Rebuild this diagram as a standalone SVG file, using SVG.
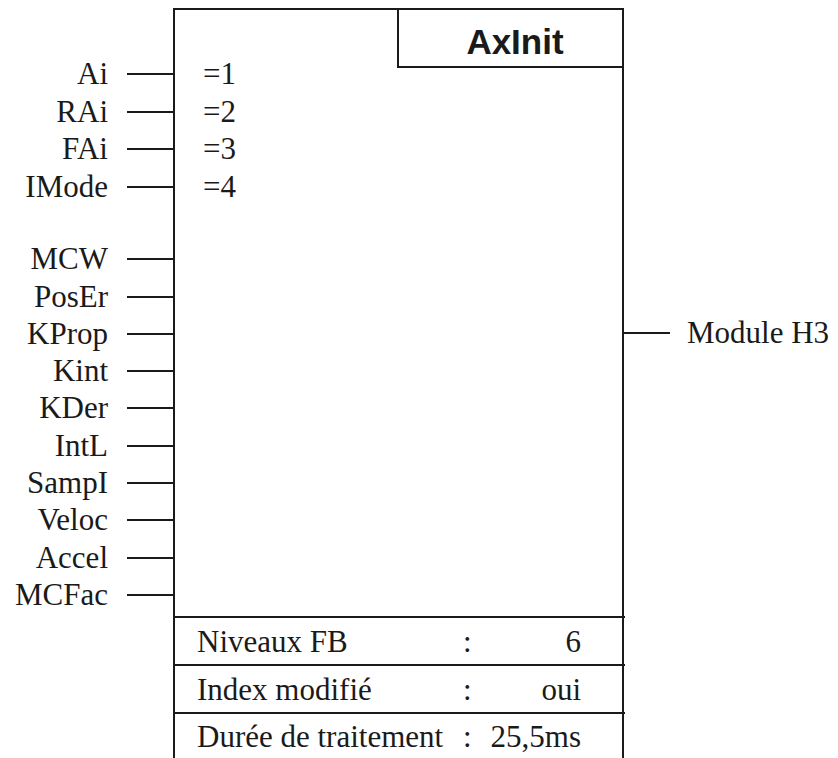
<svg xmlns="http://www.w3.org/2000/svg" width="838" height="758" viewBox="0 0 838 758">
<style>
.ln{stroke:#1a1a1a;stroke-width:2;fill:none}
.lb{font-family:"Liberation Serif","Times New Roman",serif;font-size:31px;fill:#1a1a1a}
.r{text-anchor:end}
.t{font-family:"Liberation Sans",Arial,sans-serif;font-size:35px;font-weight:bold;fill:#1a1a1a;text-anchor:middle}
</style>
<rect width="838" height="758" fill="#fff"/>
<g id="block">
<path class="ln" d="M174,758 V9 H623 V758"/>
<rect class="ln" x="398" y="9" width="225" height="58"/>
<text class="t" x="515" y="54">AxInit</text>
<text class="lb" x="203" y="84">=1</text>
<text class="lb" x="203" y="122">=2</text>
<text class="lb" x="203" y="159">=3</text>
<text class="lb" x="203" y="197">=4</text>
</g>
<g id="table">
<path class="ln" d="M174,617 H625 M174,665 H625 M174,713 H625"/>
<text class="lb" x="197" y="652">Niveaux FB</text>
<text class="lb" x="463" y="652">:</text>
<text class="lb r" x="581" y="652">6</text>
<text class="lb" x="197" y="700">Index modifié</text>
<text class="lb" x="463" y="700">:</text>
<text class="lb r" x="581" y="700">oui</text>
<text class="lb" x="197" y="747">Durée de traitement</text>
<text class="lb" x="463" y="747">:</text>
<text class="lb r" x="581" y="747">25,5ms</text>
</g>
<g id="connectors">
<path class="ln" d="M127,74 H174 M127,112 H174 M127,149 H174 M127,187 H174 M127,259 H174 M127,297 H174 M127,334 H174 M127,371 H174 M127,408 H174 M127,446 H174 M127,483 H174 M127,520 H174 M127,558 H174 M127,595 H174 M623,333 H670"/>
</g>
<g id="inputs">
<text class="lb r" x="108" y="84">Ai</text>
<text class="lb r" x="108" y="122">RAi</text>
<text class="lb r" x="108" y="159">FAi</text>
<text class="lb r" x="108" y="197">IMode</text>
<text class="lb r" x="108" y="269">MCW</text>
<text class="lb r" x="108" y="307">PosEr</text>
<text class="lb r" x="108" y="344">KProp</text>
<text class="lb r" x="108" y="381">Kint</text>
<text class="lb r" x="108" y="418">KDer</text>
<text class="lb r" x="108" y="456">IntL</text>
<text class="lb r" x="108" y="493">SampI</text>
<text class="lb r" x="108" y="530">Veloc</text>
<text class="lb r" x="108" y="568">Accel</text>
<text class="lb r" x="108" y="605">MCFac</text>
</g>
<g id="output">
<text class="lb" x="687" y="343">Module H3</text>
</g>
</svg>
